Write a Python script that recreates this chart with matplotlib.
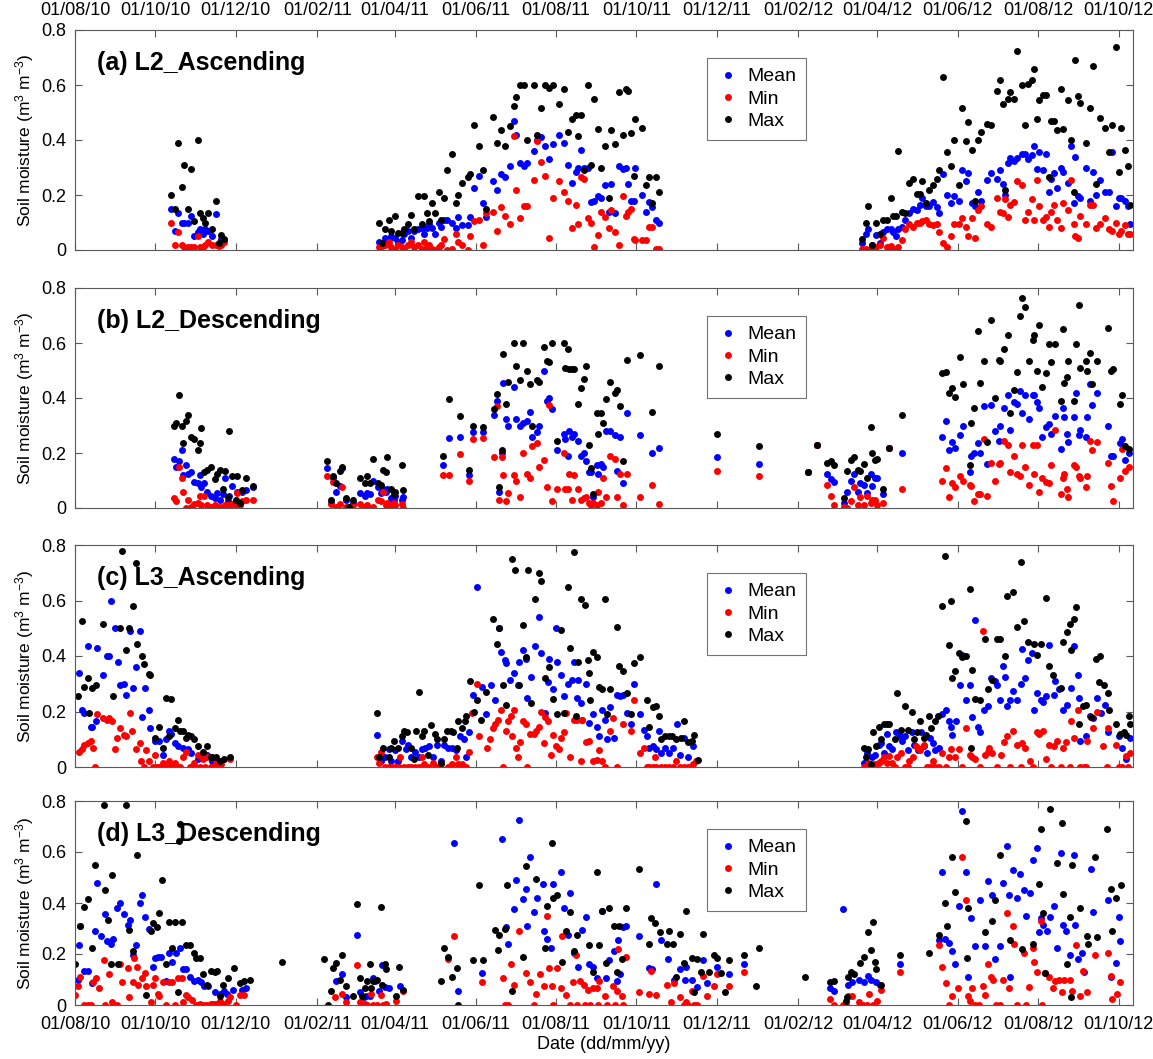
import numpy as np
import matplotlib
matplotlib.use('Agg')
import matplotlib.pyplot as plt

plt.rcParams['font.family'] = ['Liberation Sans', 'DejaVu Sans']
plt.rcParams['mathtext.default'] = 'regular'

# days are counted from 01/08/2010
START = np.datetime64('2010-08-01')
tick_dates = ['2010-08-01', '2010-10-01', '2010-12-01', '2011-02-01', '2011-04-01',
              '2011-06-01', '2011-08-01', '2011-10-01', '2011-12-01', '2012-02-01',
              '2012-04-01', '2012-06-01', '2012-08-01', '2012-10-01']
y_ticks = [0, 0.2, 0.4, 0.6, 0.8]
y_labels = ['0', '0.2', '0.4', '0.6', '0.8']
panel_titles = ['(a) L2_Ascending', '(b) L2_Descending', '(c) L3_Ascending', '(d) L3_Descending']

# ---- (a) L2 ascending: one date list shared by mean / min / max
a_days = [73, 76, 78, 81, 83, 86, 88, 90, 93, 95, 97, 99, 101, 104, 107, 109, 111, 113,
          231, 233, 235, 238, 240, 243, 245, 248, 250, 253, 255, 257, 260, 263, 265, 267, 269, 271, 273, 276,
          278, 280, 282, 286, 289, 291, 294, 298, 300, 303, 307, 310, 312, 317, 320, 323, 326, 330, 333, 335,
          338, 341, 343, 348, 351, 354, 357, 360, 363, 367, 371, 374, 377, 380, 382, 384, 386, 389, 392, 394,
          397, 399, 402, 405, 407, 410, 413, 416, 418, 420, 422, 424, 425, 430, 433, 436, 438, 441, 443,
          597, 600, 602, 605, 608, 611, 613, 616, 619, 621, 623, 625, 628, 630, 633, 636, 639, 641, 643, 646,
          648, 651, 654, 656, 659, 662, 665, 667, 671, 673, 676, 678, 681, 683, 685, 688, 692, 695, 700, 702,
          704, 706, 708, 710, 713, 715, 719, 721, 723, 726, 728, 730, 732, 735, 737, 739, 741, 743, 745, 748,
          750, 754, 756, 758, 759, 761, 763, 767, 770, 773, 775, 778, 782, 785, 787, 790, 792, 794, 797, 799,
          801]
a_mean = [.15, .07, .135, .10, .10, .10, .125, .05, .065, .075, .06, .075, .07, .05, .13, .02, .04, .035,
          .03, .02, .045, .04, .05, .045, .03, .035, .06, .07, .045, .07, .075, .08, .06, .08, .095, .08, .06, .10,
          .085, .11, .11, .10, .08, .12, .09, .09, .12, .225, .27, .17, .12, .25, .22, .275, .265, .305, .47, .42,
          .315, .305, .315, .36, .40, .41, .38, .33, .385, .42, .39, .31, .245, .285, .30, .365, .30, .30, .175, .18,
          .195, .19, .235, .14, .24, .135, .305, .295, .30, .24, .18, .18, .30, .20, .14, .175, .155, .11, .10,
          .025, .06, .075, .02, .055, .025, .065, .075, .075, .065, .05, .075, .085, .11, .135, .15, .145, .165, .19, .16,
          .16, .175, .155, .135, .275, .20, .17, .195, .18, .29, .25, .28, .17, .16, .21, .18, .255, .28, .26, .29,
          .24, .20, .315, .335, .325, .335, .35, .35, .33, .345, .38, .295, .355, .29, .35, .21, .26, .28, .225, .30,
          .285, .245, .38, .17, .34, .195, .19, .30, .18, .285, .20, .255, .21, .21, .355, .16, .19, .19, .18, .16,
          .095]
a_min = [.10, .02, .065, .02, .01, .01, .01, .01, .05, .01, .01, .02, .03, .02, .02, .015, .02, .03,
         .01, .015, .02, .03, .01, .0, .02, .01, .005, .02, .03, .01, .02, .005, .03, .01, .02, .005, .0, .01,
         .02, .04, .0, .005, .06, .03, .02, .0, .05, .105, .11, .02, .135, .14, .07, .155, .125, .095, .415, .22,
         .115, .16, .16, .255, .395, .32, .27, .045, .19, .25, .21, .18, .08, .165, .095, .265, .26, .115, .10, .01,
         .055, .14, .12, .08, .145, .065, .02, .195, .125, .14, .15, .04, .035, .035, .035, .085, .085, .005, .005,
         .005, .003, .0, .005, .01, .02, .045, .01, .015, .005, .0, .01, .035, .075, .095, .085, .10, .10, .105, .11,
         .095, .09, .095, .065, .025, .01, .05, .095, .095, .115, .085, .05, .115, .045, .145, .16, .095, .085, .19, .14,
         .135, .185, .12, .165, .175, .25, .235, .11, .14, .185, .11, .255, .16, .11, .12, .085, .14, .165, .11, .08,
         .17, .145, .255, .095, .05, .045, .125, .095, .165, .165, .08, .095, .115, .075, .07, .10, .06, .07, .09, .06,
         .06]
a_max = [.20, .15, .39, .23, .31, .15, .295, .105, .40, .135, .115, .10, .135, .075, .18, .025, .055, .04,
         .10, .027, .075, .11, .07, .125, .063, .063, .075, .093, .126, .075, .197, .093, .197, .136, .105, .17, .135, .21,
         .11, .19, .29, .35, .17, .20, .245, .265, .275, .455, .38, .29, .15, .485, .39, .435, .38, .45, .525, .555,
         .60, .60, .40, .60, .42, .515, .60, .59, .60, .53, .585, .43, .475, .49, .415, .49, .29, .60, .31, .55,
         .44, .30, .38, .19, .435, .385, .575, .42, .585, .58, .425, .27, .475, .445, .235, .265, .17, .265, .21,
         .04, .10, .16, .02, .10, .06, .11, .11, .19, .125, .125, .36, .14, .135, .245, .26, .205, .205, .25, .17,
         .22, .235, .26, .29, .63, .355, .305, .40, .235, .515, .395, .465, .365, .18, .40, .43, .46, .455, .58, .62,
         .53, .22, .55, .575, .55, .725, .60, .455, .605, .62, .66, .475, .545, .565, .565, .265, .47, .47, .435, .585,
         .44, .545, .40, .21, .69, .56, .535, .39, .515, .67, .24, .48, .445, .355, .455, .74, .285, .445, .365, .305,
         .165]

# ---- (b) L2 descending: one date list shared by mean / min / max
b_days = [75, 77, 79, 81, 82, 84, 86, 88, 90, 93, 95, 96, 98, 100, 103, 106, 108, 110, 112, 114,
          116, 117, 119, 122, 123, 125, 127, 130, 135,
          191, 194, 196, 198, 201, 203, 206, 208, 211, 216, 220, 222, 224, 226, 230, 232, 234, 236, 237, 240,
          242, 243, 248, 249,
          279, 284, 292, 299, 302, 310, 318, 320, 322, 324, 325, 327, 329, 333, 335, 338, 340, 343, 345, 347,
          351, 352, 356, 358, 360, 362, 366, 371, 372, 374, 375, 377, 379, 382, 384, 386, 388, 390, 392, 393,
          396, 397, 399, 401, 403, 406, 410, 411, 414, 416, 419, 429, 438, 443,
          487, 519, 556, 563,
          571, 574, 576, 584, 586, 589, 591, 594, 596, 599, 601, 604, 605, 607, 609, 613, 618, 628,
          658, 661, 663, 666, 668, 672, 674, 679, 680, 682, 685, 687, 690, 692, 695, 698, 701, 702, 705, 708,
          710, 713, 715, 717, 719, 721, 724, 727, 728, 730, 732, 734, 737, 739, 741, 744, 748, 750, 751, 753,
          754, 758, 760, 762, 763, 767, 768, 770, 772, 776, 784, 786, 788, 793, 795, 797, 800]
b_mean = [.18, .15, .17, .21, .12, .155, .125, .13, .095, .09, .12, .075, .09, .06, .045, .035, .055, .03, .05, .11,
          .025, .045, .08, .02, .06, .015, .06, .065, .075,
          .145, .02, .11, .06, .08, .145, .03, .003, .02, .055, .045, .055, .05, .10, .075, .055, .07, .06, .07, .035,
          .03, .045, .03, .04,
          .155, .255, .26, .12, .275, .275, .34, .39, .06, .20, .455, .325, .30, .44, .325, .30, .31, .315, .35, .26,
          .275, .30, .50, .39, .40, .36, .21, .27, .25, .19, .28, .26, .27, .245, .19, .20, .17, .13, .13, .04,
          .155, .125, .16, .15, .28, .28, .265, .135, .26, .09, .345, .265, .20, .22,
          .185, .16, .13, .23,
          .125, .105, .095, .02, .06, .10, .125, .06, .09, .085, .055, .125, .08, .11, .11, .05, .22, .20,
          .26, .315, .21, .24, .22, .265, .30, .13, .19, .20, .235, .20, .37, .16, .375, .28, .245, .30, .365, .41,
          .285, .385, .38, .425, .345, .41, .325, .41, .41, .385, .365, .26, .295, .305, .27, .335, .215, .365, .33, .27,
          .24, .33, .42, .265, .285, .26, .33, .45, .375, .42, .30, .19, .19, .235, .25, .175, .20]
b_min = [.035, .025, .15, .11, .06, .0, .03, .005, .015, .02, .045, .01, .045, .01, .005, .01, .005, .005, .0, .01,
         .01, .005, .015, .01, .055, .01, .025, .03, .03,
         .115, .015, .095, .005, .015, .075, .005, .0, .01, .015, .005, .01, .0, .005, .03, .025, .06, .01, .02, .01,
         .02, .01, .015, .0,
         .12, .12, .195, .10, .25, .255, .185, .37, .03, .185, .12, .025, .055, .12, .10, .04, .20, .125, .11, .225,
         .235, .15, .175, .075, .375, .025, .07, .20, .07, .07, .125, .03, .12, .07, .03, .035, .04, .02, .01, .02,
         .01, .06, .02, .11, .04, .19, .18, .04, .125, .01, .125, .04, .085, .015,
         .135, .115, .13, .23,
         .085, .045, .01, .005, .0, .025, .075, .01, .04, .01, .045, .02, .03, .03, .01, .02, .22, .07,
         .10, .145, .04, .09, .075, .115, .10, .085, .08, .025, .05, .05, .25, .045, .165, .10, .16, .165, .245, .23,
         .13, .19, .125, .115, .23, .15, .085, .23, .125, .23, .06, .11, .095, .09, .155, .285, .05, .11, .125, .07,
         .04, .155, .15, .115, .11, .075, .115, .245, .21, .24, .165, .08, .025, .11, .215, .135, .15]
b_max = [.30, .31, .41, .30, .235, .315, .34, .26, .25, .21, .235, .29, .13, .14, .15, .105, .125, .14, .07, .135,
         .04, .28, .115, .03, .115, .02, .065, .11, .08,
         .17, .03, .115, .09, .135, .15, .035, .005, .03, .11, .09, .115, .09, .18, .09, .085, .14, .13, .185, .07,
         .05, .06, .155, .065,
         .19, .395, .335, .14, .30, .295, .36, .415, .075, .21, .56, .38, .46, .60, .515, .465, .60, .50, .45, .30,
         .465, .46, .585, .535, .53, .60, .245, .60, .51, .58, .505, .505, .505, .38, .435, .47, .515, .23, .145, .05,
         .345, .27, .345, .31, .395, .46, .42, .43, .37, .17, .54, .555, .35, .515,
         .27, .225, .13, .23,
         .165, .17, .155, .035, .135, .175, .185, .14, .135, .16, .11, .295, .20, .175, .18, .07, .22, .34,
         .49, .495, .42, .435, .405, .55, .45, .155, .31, .365, .645, .455, .535, .24, .685, .40, .54, .535, .58, .63,
         .345, .43, .495, .70, .765, .73, .535, .61, .63, .50, .665, .44, .49, .595, .53, .595, .39, .65, .455, .475,
         .535, .39, .595, .74, .51, .535, .50, .565, .45, .535, .655, .50, .505, .38, .41, .225, .215]

# ---- (c) L3 ascending: (day, value) pairs for each series
c_mean = [(3, .34), (5, .205), (7, .195), (10, .435), (12, .145), (13, .145), (16, .165), (17, .43), (21, .33),
          (24, .40), (26, .40), (27, .60), (30, .50), (33, .38), (34, .295), (37, .30), (39, .26), (42, .49),
          (44, .285), (46, .36), (49, .49), (51, .18), (53, .285), (56, .205), (57, .14), (61, .095), (64, .095),
          (67, .045), (69, .10), (71, .13), (73, .12), (76, .085), (78, .075), (82, .07), (86, .065), (88, .05),
          (93, .03), (97, .045), (100, .045), (104, .02), (107, .02),
          (229, .115), (232, .02), (235, .035), (238, .065), (240, .02), (243, .06), (245, .02), (248, .095),
          (251, .065), (253, .08), (255, .035), (258, .055), (261, .035), (263, .065), (266, .07), (269, .075),
          (272, .035), (275, .08), (278, .02), (280, .08), (283, .07), (286, .07), (289, .06), (292, .11),
          (295, .10), (297, .035), (299, .125), (302, .26), (305, .65), (309, .29), (312, .19), (316, .295),
          (319, .24), (322, .50), (323, .415), (326, .385), (327, .375), (330, .315), (333, .34), (336, .295),
          (337, .38), (340, .42), (342, .39), (343, .25), (346, .325), (349, .435), (352, .54), (354, .41),
          (357, .195), (359, .305), (360, .39), (363, .28), (365, .50), (366, .38), (369, .33), (371, .255),
          (374, .30), (377, .315), (379, .38), (381, .25), (382, .315), (384, .23), (385, .17), (388, .30),
          (390, .16), (393, .19), (396, .145), (398, .11), (400, .205), (402, .17), (404, .10), (406, .215),
          (409, .105), (411, .26), (414, .255), (416, .26), (419, .195), (422, .155), (424, .30), (429, .19),
          (432, .135), (434, .11), (436, .07), (439, .075), (441, .065), (443, .13), (445, .05), (448, .07),
          (451, .05), (454, .07), (457, .155), (459, .045), (462, .105), (465, .035), (469, .075),
          (599, .015), (601, .05), (605, .035), (607, .045), (610, .08), (612, .085), (614, .05), (616, .12),
          (618, .075), (620, .065), (623, .125), (626, .11), (628, .095), (630, .11), (632, .06), (635, .125),
          (637, .08), (640, .06), (642, .125), (644, .075), (647, .05), (649, .105), (651, .085), (653, .06),
          (656, .07), (658, .19), (661, .205), (663, .165), (665, .145), (666, .115), (669, .165), (672, .295),
          (673, .405), (676, .24), (679, .295), (681, .18), (683, .53), (685, .145), (687, .125), (690, .205),
          (693, .22), (695, .32), (698, .31), (700, .295), (702, .24), (704, .365), (706, .325), (707, .22),
          (710, .24), (712, .275), (715, .24), (718, .30), (719, .425), (721, .32), (723, .385), (726, .41),
          (728, .205), (730, .265), (733, .24), (735, .235), (737, .255), (739, .44), (743, .26), (744, .31),
          (747, .28), (750, .205), (753, .225), (756, .285), (758, .435), (761, .33), (762, .25), (763, .095),
          (767, .11), (770, .185), (773, .175), (776, .25), (779, .195), (782, .225), (784, .125), (792, .11),
          (795, .07), (798, .03), (801, .105)]
c_min = [(3, .055), (5, .065), (7, .08), (10, .085), (12, .095), (14, .07), (15, 0), (17, .19), (21, .175),
         (24, .17), (26, .175), (28, .165), (30, .065), (32, .105), (34, .14), (37, .115), (39, .11), (42, .195),
         (43, .13), (46, .065), (49, .085), (50, .02), (52, 0), (54, .06), (56, .02), (59, 0), (61, .045),
         (62, 0), (64, 0), (66, 0), (67, .015), (69, 0), (71, .02), (72, 0), (74, 0), (76, .015), (78, 0),
         (80, 0), (82, .035), (84, .055), (87, 0), (89, 0), (90, .015), (91, 0), (93, .045), (95, 0), (97, .03),
         (99, 0), (100, .035), (103, 0), (105, 0), (107, .015), (109, 0), (111, .01), (118, .03),
         (229, .035), (231, .015), (232, .055), (235, 0), (238, 0), (240, 0), (243, 0), (246, 0), (247, .035),
         (250, 0), (253, 0), (255, 0), (258, 0), (261, 0), (263, .035), (265, .01), (268, 0), (272, .015),
         (275, 0), (278, .01), (283, 0), (286, .01), (289, .035), (291, .01), (294, .01), (297, 0), (299, .055),
         (301, .195), (305, .30), (307, .11), (313, .07), (315, .10), (317, .14), (319, .155), (321, .17),
         (323, .205), (325, 0), (327, .13), (329, .165), (331, .185), (332, .11), (333, .205), (335, .07),
         (336, .035), (338, .09), (340, .165), (342, .155), (343, 0), (345, .12), (348, .12), (350, .13),
         (352, .145), (354, .20), (356, .085), (357, .18), (359, .165), (361, .045), (363, .115), (365, .075),
         (367, .065), (369, .105), (371, .125), (373, .195), (376, .035), (379, .17), (381, .17), (384, .02),
         (385, .17), (388, .09), (390, .095), (393, .02), (396, .025), (398, .06), (400, .02), (402, 0),
         (406, .13), (408, .175), (411, 0), (416, .155), (422, .13), (424, .24), (429, .05), (432, .07),
         (434, 0), (436, 0), (439, 0), (440, .035), (441, 0), (445, 0), (448, 0), (451, 0), (454, 0),
         (456, .02), (459, 0), (462, 0), (465, 0), (469, .01), (471, .02),
         (599, 0), (602, .015), (605, 0), (607, .01), (610, .015), (612, .02), (614, .035), (616, .015),
         (618, .04), (620, .015), (622, 0), (624, .035), (627, .05), (630, 0), (632, 0), (633, .02),
         (636, .035), (638, .075), (640, .07), (641, .06), (644, .08), (647, 0), (649, 0), (651, .02),
         (653, 0), (656, 0), (658, .05), (661, 0), (663, .035), (665, .065), (668, .035), (671, .065),
         (673, 0), (676, .14), (679, .045), (681, .035), (683, .03), (687, 0), (689, .49), (691, .045),
         (693, .055), (694, .07), (696, .05), (700, 0), (703, .045), (705, .09), (707, .11), (710, 0),
         (712, .13), (715, .08), (718, 0), (719, .085), (721, .07), (725, .02), (727, 0), (730, .125),
         (732, .12), (735, .13), (737, .03), (739, .08), (741, 0), (743, .075), (745, .095), (748, 0),
         (750, .07), (752, .09), (755, 0), (756, .165), (758, .105), (761, .205), (763, 0), (766, 0),
         (767, 0), (768, .095), (771, .18), (773, .14), (776, .20), (780, .075), (783, 0), (784, .14),
         (790, .08), (792, 0), (795, 0), (798, .04), (799, 0), (801, .05)]
c_max = [(2, .255), (5, .525), (7, .29), (10, .32), (11, .195), (13, .285), (16, .295), (21, .515), (29, .255),
         (34, .50), (36, .78), (39, .42), (41, .50), (44, .58), (46, .735), (47, .445), (51, .40), (52, .37),
         (56, .335), (57, .33), (61, .105), (64, .145), (67, .07), (69, .25), (71, .11), (73, .245), (76, .14),
         (78, .17), (80, .13), (82, .13), (84, .105), (86, .115), (88, .11), (90, .10), (93, .075), (97, .055),
         (100, .075), (103, .035), (104, .035), (107, .035), (110, .02), (113, .03), (118, .035),
         (229, .195), (231, .035), (234, .07), (238, .035), (240, .07), (242, .095), (245, .07), (248, .11),
         (250, .13), (252, .125), (255, .07), (257, .03), (259, .13), (261, .27), (263, .11), (265, .13),
         (268, .045), (270, .15), (273, .12), (275, .10), (278, .015), (280, .10), (282, .13), (285, .13),
         (287, .125), (290, .07), (291, .165), (294, .14), (296, .165), (297, .185), (300, .31), (303, .20),
         (305, .24), (308, .17), (312, .27), (317, .535), (320, .445), (322, .50), (325, .295), (327, .225),
         (332, .75), (334, .71), (337, .295), (340, .51), (342, .395), (344, .71), (346, .23), (349, .605),
         (352, .70), (354, .67), (357, .32), (360, .36), (363, .245), (366, .19), (369, .495), (371, .195),
         (374, .65), (376, .43), (379, .775), (380, .185), (382, .38), (384, .605), (387, .585), (389, .385),
         (390, .34), (391, .24), (393, .415), (396, .395), (398, .29), (400, .28), (402, .605), (404, .19),
         (406, .28), (411, .505), (413, .365), (416, .345), (419, .265), (422, .19), (424, .375), (429, .395),
         (434, .24), (436, .145), (439, .215), (441, .22), (443, .185), (445, .10), (448, .11), (451, .11),
         (453, .11), (456, .10), (460, .105), (462, .165), (465, .09), (468, .095), (470, .115), (473, .025),
         (599, .07), (600, .035), (602, .065), (604, .01), (606, .125), (608, .075), (610, .145), (612, .10),
         (614, .155), (616, .155), (618, .155), (622, .10), (624, .265), (627, .135), (630, .22), (632, .135),
         (635, .20), (637, .10), (639, .125), (641, .165), (644, .105), (646, .115), (648, .185), (650, .14),
         (653, .165), (655, .185), (658, .58), (660, .76), (663, .44), (665, .60), (666, .32), (668, .345),
         (671, .41), (673, .395), (676, .40), (679, .64), (680, .07), (681, .35), (683, .245), (687, .24),
         (691, .46), (693, .28), (696, .315), (700, .46), (702, .46), (706, .40), (707, .615), (712, .63),
         (715, .505), (718, .74), (720, .525), (723, .45), (728, .445), (730, .405), (733, .445), (737, .61),
         (739, .365), (742, .33), (748, .285), (750, .45), (753, .485), (755, .515), (756, .42), (758, .535),
         (760, .575), (762, .155), (765, .22), (767, .225), (771, .18), (775, .39), (777, .305), (778, .40),
         (781, .295), (784, .265), (785, .205), (790, .155), (793, .12), (796, .125), (798, .115), (800, .185),
         (801, .155)]

# ---- (d) L3 descending: (day, value) pairs for each series
d_mean = [(2, .10), (3, .235), (4, .31), (7, .135), (10, .135), (13, .085), (15, .29), (17, .48), (20, .27),
          (23, .355), (24, .25), (27, .24), (29, .26), (32, .38), (34, .40), (37, .355), (40, .315), (42, .335),
          (44, .195), (46, .235), (49, .40), (51, .43), (53, .345), (56, .30), (59, .15), (61, .185), (63, .19),
          (65, .19), (69, .095), (71, .205), (74, .17), (77, .205), (80, .225), (82, .14), (84, .14), (87, .11),
          (90, .095), (93, .10), (96, .09), (98, .075), (101, .075), (106, .05), (110, .045), (113, .055),
          (115, .045), (120, .06), (127, .06), (130, .065),
          (198, .095), (203, .12), (206, .03), (214, .275), (216, .05), (219, .03), (221, .035), (224, .035),
          (226, .105), (228, .095), (231, .055), (233, .155), (235, .07), (238, .065), (247, .075),
          (288, .635), (291, .055), (309, .125), (324, .65), (327, .305), (329, .24), (333, .375), (335, .49),
          (337, .725), (340, .415), (342, .455), (343, .31), (345, .58), (348, .365), (351, .42), (355, .475),
          (356, .29), (358, .26), (361, .225), (363, .475), (369, .52), (371, .38), (374, .275), (376, .44),
          (379, .205), (382, .15), (385, .295), (388, .345), (390, .16), (393, .15), (396, .105), (400, .37),
          (403, .105), (405, .175), (409, .21), (411, .095), (412, .255), (414, .12), (416, .305), (418, .31),
          (428, .27), (436, .145), (438, .14), (441, .475), (445, .255), (450, .18), (455, .10), (459, .14),
          (463, .10), (464, .15), (468, .10), (472, .07), (477, .175), (480, .085), (487, .15), (496, .12),
          (508, .16),
          (573, .065), (576, .055), (583, .375), (587, .08), (590, .09), (595, .10), (599, .09), (602, .115),
          (604, .10), (608, .09), (611, .08), (626, .16),
          (656, .255), (658, .52), (660, .26), (663, .245), (666, .21), (668, .16), (671, .39), (673, .76),
          (676, .52), (678, .11), (680, .34), (683, .23), (687, .41), (691, .23), (693, .485), (696, .43),
          (698, .18), (702, .23), (704, .48), (707, .625), (709, .43), (710, .11), (712, .53), (715, .42),
          (717, .515), (720, .45), (722, .35), (725, .44), (727, .57), (730, .615), (732, .285), (733, .34),
          (735, .315), (738, .29), (740, .345), (743, .39), (745, .225), (748, .595), (750, .315), (752, .29),
          (755, .195), (758, .59), (759, .315), (761, .18), (764, .205), (766, .13), (771, .535), (773, .365),
          (784, .41), (786, .11), (790, .165), (792, .345), (793, .25)]
d_min = [(0, .04), (2, .075), (4, .11), (7, 0), (10, 0), (12, 0), (14, .09), (16, .105), (18, .065), (22, .175),
         (23, 0), (26, .12), (28, .01), (32, 0), (34, .16), (36, .09), (40, .145), (41, .03), (44, .09),
         (45, .185), (47, .15), (48, .08), (51, .105), (53, .125), (54, .075), (58, .01), (59, .08), (61, .105),
         (63, .045), (64, .035), (67, .09), (69, 0), (71, .09), (74, .09), (76, 0), (78, .105), (81, .105),
         (82, .01), (84, .04), (86, .03), (89, .02), (92, 0), (95, .005), (98, 0), (100, 0), (103, .005),
         (105, .005), (107, .005), (110, .015), (112, .005), (116, .015), (118, .03), (122, 0), (125, .04),
         (128, .04),
         (197, .03), (203, .045), (206, .01), (214, .155), (216, .01), (218, 0), (220, .005), (222, 0),
         (225, .045), (226, 0), (229, 0), (232, .04), (234, 0), (236, .005), (244, .015), (249, .055),
         (283, .18), (288, .27), (309, .09), (325, .105), (326, 0), (329, 0), (331, .16), (333, .08), (337, .29),
         (342, .125), (345, .09), (348, 0), (350, .045), (353, .12), (356, .075), (358, .35), (360, .145),
         (362, .075), (363, 0), (366, .145), (369, .065), (370, .27), (373, .04), (376, 0), (378, .09),
         (380, .195), (381, 0), (383, .095), (386, .08), (387, 0), (389, .06), (391, 0), (393, .065),
         (396, .065), (397, 0), (398, .095), (402, .035), (404, 0), (408, .075), (410, 0), (411, .055),
         (412, .22), (415, .035), (416, 0), (418, .19), (428, .05), (436, .045), (437, .135), (441, .04),
         (449, .08), (452, .01), (455, .085), (459, .03), (462, 0), (464, .01), (465, 0), (468, .055),
         (470, 0), (472, 0), (477, .115), (480, .035), (485, .075), (487, .12), (496, .075), (508, .13),
         (573, .025), (576, 0), (583, 0), (585, 0), (587, .035), (590, .035), (595, .01), (598, 0), (601, 0),
         (603, .045), (606, 0), (609, .015), (612, .06), (626, .13),
         (656, .235), (658, .15), (661, .085), (663, 0), (666, .035), (670, .065), (673, .58), (676, .41),
         (678, .035), (679, .015), (681, .065), (683, 0), (686, 0), (689, .075), (691, .04), (693, .16),
         (695, .11), (697, .10), (699, 0), (702, 0), (704, .10), (707, .36), (709, .065), (712, .31),
         (713, .24), (715, 0), (720, .205), (722, 0), (724, .07), (727, .225), (728, .17), (730, .13),
         (733, .33), (734, 0), (736, .125), (739, .11), (742, .065), (744, .095), (747, .10), (749, .05),
         (751, .10), (755, .10), (757, .055), (760, .235), (763, .035), (765, .135), (768, .05), (774, .195),
         (784, .205), (786, .115), (787, .025), (791, .045), (793, .09)]
d_max = [(0, .16), (4, .31), (7, .385), (10, .415), (13, .225), (15, .55), (22, .785), (23, .45), (25, .335),
         (27, .16), (28, .51), (33, .16), (39, .785), (41, .295), (44, .21), (47, .59), (54, .04), (58, .29),
         (59, .32), (62, .305), (64, .36), (66, .49), (69, .16), (71, .325), (74, .225), (76, .325), (78, .05),
         (79, .645), (80, .71), (81, .325), (84, .235), (87, .235), (90, .205), (92, .185), (95, .185), (97, .12),
         (100, .08), (103, .135), (106, .13), (108, .135), (110, .035), (112, .08), (116, .105), (121, .145),
         (125, .085), (128, .095), (133, .10),
         (157, .17), (189, .18), (192, 0), (194, .055), (196, .145), (198, .165), (201, .10), (203, .195),
         (206, .075), (211, .035), (214, .395), (216, .105), (218, .035), (220, .065), (222, .095), (224, .16),
         (225, .065), (226, .095), (229, .10), (232, .385), (233, .08), (235, .16), (236, .14), (244, .035),
         (246, .15), (249, .06),
         (278, .095), (280, .225), (283, .19), (286, .11), (290, .145), (291, 0), (302, .175), (307, .47),
         (310, .175), (319, .295), (321, .215), (322, .275), (326, .30), (328, .47), (332, .055), (340, .19),
         (342, .545), (350, .495), (357, .225), (358, .39), (362, .635), (363, .42), (366, .43), (370, .17),
         (373, .29), (376, .365), (379, .21), (381, .275), (390, .235), (393, .13), (396, .52), (398, .235),
         (400, .37), (403, .165), (405, .38), (409, .31), (411, .13), (413, .31), (415, .18), (418, .38),
         (428, .535), (436, .24), (437, .34), (440, .32), (444, .285), (449, .24), (451, .29), (454, .24),
         (456, .11), (459, .28), (462, .165), (464, .37), (468, .185), (470, .05), (472, .18), (475, .13),
         (477, .28), (481, .13), (485, .195), (487, .185), (490, .125), (493, .05), (496, .175), (508, .195),
         (517, .075), (519, .225),
         (554, .11), (573, .09), (576, .095), (585, .015), (586, .03), (587, .11), (589, .13), (591, .12),
         (596, .165), (599, .19), (602, .285), (604, .215), (606, .325), (607, .17), (608, .14), (612, .08),
         (626, .195), (648, .205),
         (656, .275), (660, .40), (662, .31), (666, .58), (668, .445), (676, .72), (677, .185), (678, .38),
         (691, .285), (696, .33), (698, .41), (702, .59), (710, .255), (719, .22), (727, .24), (732, .475),
         (733, .69), (735, .36), (736, .125), (740, .77), (745, .555), (749, .715), (750, .435), (753, .16),
         (755, .345), (756, .03), (757, .55), (763, .38), (768, .27), (769, .24), (774, .58), (776, .265),
         (783, .69), (786, .455), (787, .29), (790, .42), (794, .47)]


def as_dates(days):
    return START + np.array(days).astype('timedelta64[D]')


def split(pairs):
    days, vals = zip(*pairs)
    return as_dates(days), np.array(vals)


panels = [
    ((as_dates(a_days), np.array(a_mean)), (as_dates(a_days), np.array(a_min)), (as_dates(a_days), np.array(a_max))),
    ((as_dates(b_days), np.array(b_mean)), (as_dates(b_days), np.array(b_min)), (as_dates(b_days), np.array(b_max))),
    (split(c_mean), split(c_min), split(c_max)),
    (split(d_mean), split(d_min), split(d_max)),
]

W, H = 1153, 1059
fig = plt.figure(figsize=(W / 100, H / 100), dpi=100)
# axes boxes in pixels: (top, bottom)
boxes = [(30, 250), (288, 508), (545, 767), (801, 1005)]
left, right = 75, 1133
ticks = np.array(tick_dates, dtype='datetime64[D]')
tick_labels = [str(t)[8:10] + '/' + str(t)[5:7] + '/' + str(t)[2:4] for t in ticks]

for i, (top, bot) in enumerate(boxes):
    ax = fig.add_axes([left / W, 1 - bot / H, (right - left) / W, (bot - top) / H])
    (xm, ym), (xn, yn), (xx, yx) = panels[i]
    ax.plot(xm, ym, 'o', color='blue', ms=5, mec='none', label='Mean')
    ax.plot(xn, yn, 'o', color='red', ms=5, mec='none', label='Min')
    ax.plot(xx, yx, 'o', color='black', ms=5, mec='none', label='Max')

    ax.set_xlim(START, START + np.timedelta64(803, 'D'))
    ax.set_ylim(0, 0.8)
    ax.set_xticks(ticks)
    ax.set_xticklabels(tick_labels)
    ax.set_yticks(y_ticks)
    ax.set_yticklabels(y_labels)
    ax.tick_params(direction='in', length=5, width=0.8, color='0.35', labelsize=13,
                   top=True, right=True, labelbottom=(i == 3), labeltop=(i == 0))
    ax.tick_params(axis='x', pad=8)
    ax.tick_params(axis='y', pad=6)
    for s in ax.spines.values():
        s.set_color('0.35')
        s.set_linewidth(0.8)
    ax.set_ylabel('Soil moisture (m$^{3}$ m$^{-3}$)', fontsize=12.5, labelpad=4)

    h = bot - top
    ax.text(0.021, 1 - 33 / h, panel_titles[i], transform=ax.transAxes,
            fontsize=18, fontweight='bold', va='center', ha='left')
    leg = ax.legend(loc='upper left', bbox_to_anchor=(0.597, 1 - 28 / h), fontsize=14,
                    frameon=True, fancybox=False, framealpha=1, edgecolor='0.45',
                    handlelength=1.2, handletextpad=0.4, labelspacing=0.25, borderpad=0.5,
                    borderaxespad=0)
    leg.get_frame().set_linewidth(0.8)
    if i == 3:
        ax.set_xlabel('Date (dd/mm/yy)', fontsize=13, labelpad=2)

fig.savefig('out.png', dpi=100)
